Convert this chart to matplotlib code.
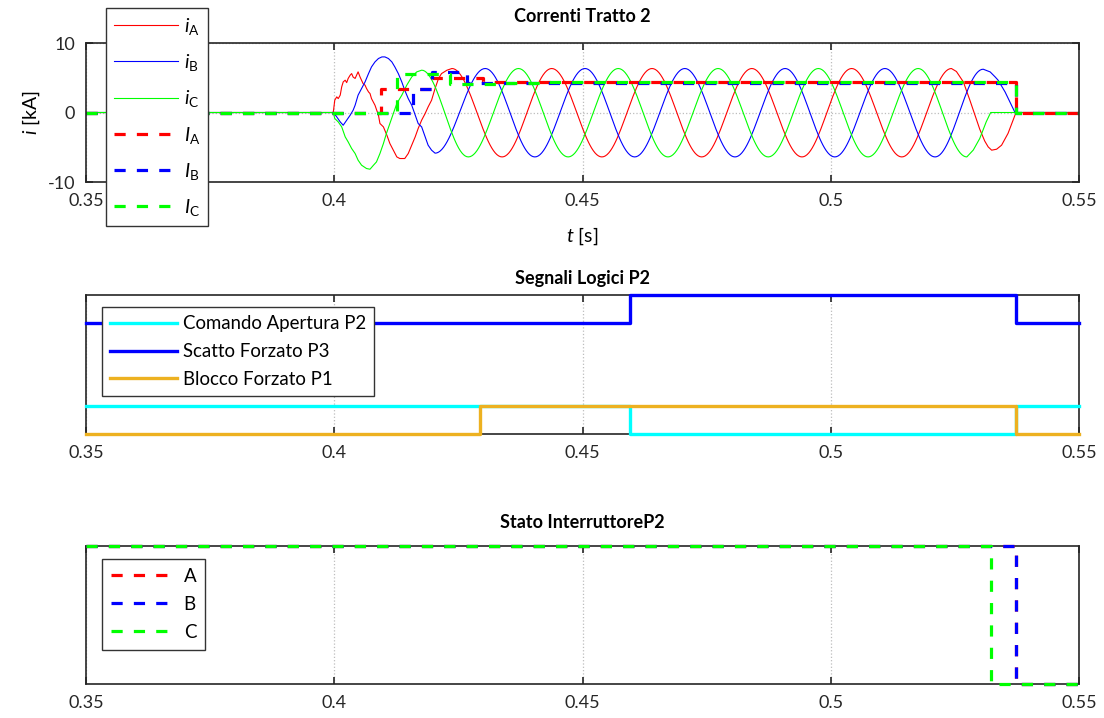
import numpy as np
import matplotlib
matplotlib.use("Agg")
import matplotlib.pyplot as plt

plt.rcParams['font.family'] = ['Lato', 'DejaVu Sans']
plt.rcParams['mathtext.fontset'] = 'custom'
plt.rcParams['mathtext.rm'] = 'Lato'
plt.rcParams['mathtext.it'] = 'Lato:italic'
plt.rcParams['font.size'] = 13
plt.rcParams['axes.unicode_minus'] = False

# time axis
xticks = [0.35, 0.4, 0.45, 0.5, 0.55]
xticklabels = ['0.35', '0.4', '0.45', '0.5', '0.55']

# phase currents (kA): transient points, then
# peaks/troughs of the steady oscillation, then the points around the opening
iA_start = [(0.35, 0), (0.3998, 0), (0.4001, 1.77), (0.4005, 2.25), (0.4008, 2.0), (0.4012, 2.5),
            (0.4015, 3.7), (0.4018, 4.4), (0.4022, 4.65), (0.4025, 4.3), (0.4028, 4.9), (0.4032, 5.37),
            (0.4035, 5.6), (0.4038, 5.1), (0.4042, 4.9), (0.4045, 5.37), (0.4048, 5.85), (0.4052, 5.1),
            (0.4055, 4.65), (0.4058, 4.17), (0.4062, 3.93), (0.4065, 3.45), (0.4069, 2.96), (0.4072, 2.73),
            (0.4075, 2.0), (0.4082, 1.05), (0.4089, -0.39), (0.4092, -1.58), (0.4099, -2.07), (0.4106, -3.27),
            (0.4112, -4.46), (0.4119, -5.42), (0.4126, -6.39), (0.4132, -6.62), (0.4142, -6.62), (0.4149, -5.9),
            (0.4156, -4.7), (0.4163, -3.5), (0.4169, -2.3), (0.4176, -1.1), (0.4183, -0.15), (0.4189, 0.8),
            (0.4196, 1.77), (0.4203, 3.45), (0.4210, 4.9), (0.4216, 5.6), (0.4227, 6.09)]
iA_peaks = [(0.4237, 6.33), (0.4338, -6.39), (0.4438, 6.33), (0.4539, -6.39), (0.4640, 6.33),
            (0.4740, -6.39), (0.4841, 6.33), (0.4942, -6.39), (0.5042, 6.33), (0.5143, -6.39),
            (0.5243, 6.33)]
iA_end = [(0.5253, 5.9), (0.5267, 4.4), (0.5280, 1.8), (0.5290, -0.3), (0.5300, -2.4), (0.5310, -4.1),
          (0.5317, -4.95), (0.5324, -5.42), (0.5334, -5.28), (0.5344, -4.7), (0.5357, -3.0),
          (0.5367, -1.1), (0.5373, 0), (0.55, 0)]

iB_start = [(0.35, 0), (0.3998, 0), (0.4005, -0.63), (0.4012, -1.35), (0.4018, -1.83), (0.4025, -1.1),
            (0.4032, -0.39), (0.4038, 0.33), (0.4042, 1.05), (0.4048, 2.5), (0.4055, 3.45), (0.4062, 4.4),
            (0.4069, 5.6), (0.4075, 6.56), (0.4082, 7.28), (0.4089, 7.77), (0.4096, 8.0), (0.4102, 8.0),
            (0.4109, 7.77), (0.4116, 7.28), (0.4122, 6.56), (0.4129, 5.6), (0.4136, 4.4), (0.4142, 3.2),
            (0.4149, 2.0), (0.4156, 1.05), (0.4163, -0.39), (0.4169, -1.58), (0.4176, -2.07),
            (0.4183, -3.5), (0.4189, -4.7), (0.4196, -5.42)]
iB_peaks = [(0.4203, -5.85), (0.4304, 6.33), (0.4404, -6.39), (0.4505, 6.33), (0.4605, -6.39),
            (0.4706, 6.33), (0.4807, -6.39), (0.4908, 6.33), (0.5008, -6.39), (0.5109, 6.33),
            (0.5210, -6.39), (0.5307, 6.23)]
iB_end = [(0.5321, 5.84), (0.5331, 5.12), (0.5337, 4.65), (0.5351, 2.96), (0.5364, 1.05),
          (0.5371, 0), (0.55, 0)]

iC_start = [(0.35, 0), (0.3998, 0), (0.4001, -0.86), (0.4008, -1.35), (0.4015, -2.07), (0.4022, -3.5),
            (0.4028, -4.23), (0.4035, -5.18), (0.4042, -5.9), (0.4048, -6.86), (0.4055, -7.58),
            (0.4065, -8.06), (0.4072, -8.16), (0.4079, -7.58), (0.4085, -7.11), (0.4092, -5.9),
            (0.4099, -4.46), (0.4105, -3.02), (0.4112, -1.58), (0.4119, -0.14), (0.4126, 1.3),
            (0.4136, 2.49), (0.4146, 3.93), (0.4156, 5.12), (0.4166, 5.84)]
iC_peaks = [(0.4176, 6.09), (0.4270, -6.39), (0.4371, 6.33), (0.4471, -6.39), (0.4572, 6.33),
            (0.4672, -6.39), (0.4773, 6.33), (0.4874, -6.39), (0.4975, 6.33), (0.5075, -6.39),
            (0.5176, 6.33), (0.5274, -6.39)]
iC_end = [(0.5287, -5.4), (0.5300, -3.74), (0.5313, -1.35), (0.5322, 0), (0.55, 0)]

# rms currents (kA), step values
IA_t = [0.35, 0.4094, 0.4197, 0.4300, 0.5374, 0.55]
IA = [0, 3.45, 4.9, 4.45, 0, 0]
IB_t = [0.35, 0.4159, 0.4197, 0.4267, 0.5374, 0.55]
IB = [0, 3.45, 5.8, 4.3, 0, 0]
IC_t = [0.35, 0.4126, 0.4233, 0.4330, 0.4430, 0.4530, 0.5374, 0.55]
IC = [0, 5.6, 4.05, 4.2, 4.35, 4.45, 0, 0]

# logic signals
cmd_t = [0.35, 0.4596, 0.5373, 0.55]
cmd = [1, 0, 1, 1]
scatto_t = [0.35, 0.4596, 0.5373, 0.55]
scatto = [4, 5, 4, 4]
blocco_t = [0.35, 0.4294, 0.5373, 0.55]
blocco = [0, 1, 0, 0]

# breaker state
stA_t = [0.35, 0.5374, 0.55]
stA = [1, 0, 0]
stB_t = [0.35, 0.5374, 0.55]
stB = [1, 0, 0]
stC_t = [0.35, 0.5323, 0.55]
stC = [1, 0, 0]

RED, BLUE, GREEN = '#ff0000', '#0000ff', '#00ff00'


def build(start, peaks, end):
    t = [p[0] for p in start]
    v = [p[1] for p in start]
    t.append(peaks[0][0])
    v.append(peaks[0][1])
    s = np.linspace(0, 1, 30)[1:]
    for (t0, v0), (t1, v1) in zip(peaks[:-1], peaks[1:]):
        t.extend(t0 + s * (t1 - t0))
        v.extend((v0 + v1) / 2 + (v0 - v1) / 2 * np.cos(np.pi * s))
    t += [p[0] for p in end]
    v += [p[1] for p in end]
    return t, v


def style(ax):
    ax.set_xlim(0.35, 0.55)
    ax.set_xticks(xticks)
    ax.set_xticklabels(xticklabels)
    ax.tick_params(direction='in', top=True, right=True, length=5, width=1.2,
                   labelsize=13, colors='#262626', pad=8)
    ax.grid(True, color='#bdbdbd', linestyle=':', linewidth=0.9)
    for sp in ax.spines.values():
        sp.set_color('#262626')
        sp.set_linewidth(1.2)


def legend(owner, handles, labels, anchor, transform, fs, spacing, pad, hl=3.6):
    leg = owner.legend(handles, labels, loc='upper left', bbox_to_anchor=anchor,
                       bbox_transform=transform, fontsize=fs, handlelength=hl,
                       labelspacing=spacing, handletextpad=0.28, borderpad=pad,
                       borderaxespad=0, fancybox=False, framealpha=1, edgecolor='#333333')
    leg.get_frame().set_linewidth(1.0)
    return leg


fig = plt.figure(figsize=(11.04, 7.18), dpi=100)

# top panel
ax1 = fig.add_axes([0.0779, 0.7465, 0.8995, 0.1936])
style(ax1)
ax1.set_ylim(-10, 10)
ax1.set_yticks([-10, 0, 10])
for data, c, lab in [((iA_start, iA_peaks, iA_end), RED, r'$\mathit{i}_{\mathrm{A}}$'),
                     ((iB_start, iB_peaks, iB_end), BLUE, r'$\mathit{i}_{\mathrm{B}}$'),
                     ((iC_start, iC_peaks, iC_end), GREEN, r'$\mathit{i}_{\mathrm{C}}$')]:
    t, v = build(*data)
    ax1.plot(t, v, color=c, lw=0.8, label=lab)
for t, v, c, lab in [(IA_t, IA, RED, r'$\mathit{I}_{\mathrm{A}}$'),
                     (IB_t, IB, BLUE, r'$\mathit{I}_{\mathrm{B}}$'),
                     (IC_t, IC, GREEN, r'$\mathit{I}_{\mathrm{C}}$')]:
    ax1.plot(t, v, color=c, lw=2.3, dashes=(3.5, 3.5), drawstyle='steps-post', label=lab)
ax1.set_title('Correnti Tratto 2', fontsize=13, fontweight='bold', pad=15)
ax1.set_xlabel(r'$\mathit{t}$ [s]', fontsize=14, labelpad=12)
ax1.set_ylabel(r'$\mathit{i}$ [kA]', fontsize=14, labelpad=4)
h, l = ax1.get_legend_handles_labels()
legend(fig, h, l, (0.096, 0.989), fig.transFigure, 14, 0.78, 0.42, hl=3.3)

# middle panel
ax2 = fig.add_axes([0.0779, 0.3955, 0.8995, 0.1936])
style(ax2)
ax2.set_ylim(0, 5)
ax2.set_yticks([])
ax2.plot(cmd_t, cmd, color='#00ffff', lw=2.4, drawstyle='steps-post', clip_on=False,
         zorder=3, label='Comando Apertura P2')
ax2.plot(scatto_t, scatto, color='#0000ff', lw=2.4, drawstyle='steps-post', clip_on=False,
         zorder=3, label='Scatto Forzato P3')
ax2.plot(blocco_t, blocco, color='#edb120', lw=2.4, drawstyle='steps-post', clip_on=False,
         zorder=3, label='Blocco Forzato P1')
ax2.set_title('Segnali Logici P2', fontsize=13, fontweight='bold', pad=8)
h, l = ax2.get_legend_handles_labels()
legend(ax2, h, l, (0.0161, 0.914), ax2.transAxes, 13.4, 0.58, 0.45)

# bottom panel
ax3 = fig.add_axes([0.0779, 0.0474, 0.8995, 0.1922])
style(ax3)
ax3.set_ylim(0, 1)
ax3.set_yticks([])
for t, v, c, lab in [(stA_t, stA, RED, 'A'), (stB_t, stB, BLUE, 'B'),
                     (stC_t, stC, GREEN, 'C')]:
    ax3.plot(t, v, color=c, lw=2.3, dashes=(3.5, 3.5), drawstyle='steps-post', clip_on=False,
             zorder=3, label=lab)
ax3.set_title('Stato InterruttoreP2', fontsize=13, fontweight='bold', pad=13)
h, l = ax3.get_legend_handles_labels()
legend(ax3, h, l, (0.0161, 0.906), ax3.transAxes, 13.5, 0.58, 0.48)

fig.savefig('out.png', dpi=100)
